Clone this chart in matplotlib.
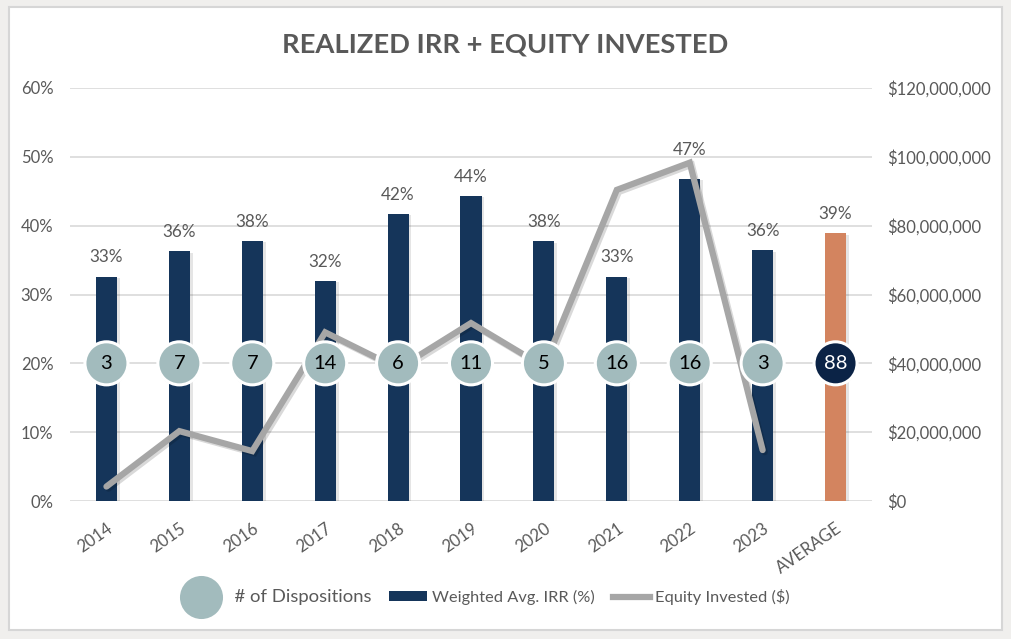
import numpy as np
import matplotlib.pyplot as plt
import matplotlib.patheffects as pe
from matplotlib.lines import Line2D
from matplotlib.patches import Patch, Rectangle
from matplotlib.ticker import FuncFormatter

plt.rcParams['font.family'] = ['Lato', 'DejaVu Sans']

# data
categories = ['2014', '2015', '2016', '2017', '2018', '2019', '2020',
              '2021', '2022', '2023', 'AVERAGE']
irr = [0.326, 0.363, 0.378, 0.320, 0.417, 0.443, 0.377,
       0.326, 0.468, 0.364, 0.389]
irr_labels = ['33%', '36%', '38%', '32%', '42%', '44%', '38%',
              '33%', '47%', '36%', '39%']
equity = [4.2e6, 20.3e6, 14.5e6, 49e6, 38.5e6, 51.7e6, 39e6,
          90.4e6, 98.3e6, 14.8e6]
dispositions = [3, 7, 7, 14, 6, 11, 5, 16, 16, 3, 88]

NAVY = '#15355a'
ORANGE = '#d3845f'
TEAL = '#a2bbbd'
DARK = '#0b2346'
GRAY_LINE = '#a6a6a6'
TXT = '#595959'

fig = plt.figure(figsize=(10.11, 6.39), dpi=100)
fig.patch.set_facecolor('#f0efed')
fig.patches.append(Rectangle((9 / 1011, 1 - 630 / 639), 993 / 1011, 623 / 639,
                             transform=fig.transFigure, facecolor='white',
                             edgecolor='#d6d6d6', linewidth=1.5, zorder=-5))

ax = fig.add_axes([70 / 1011, 1 - 501 / 639, 802 / 1011, 413 / 639])
ax.set_facecolor('none')
x = np.arange(len(categories))

colors = [NAVY] * (len(categories) - 1) + [ORANGE]
shadow = [pe.SimplePatchShadow(offset=(2, -1), alpha=0.1, shadow_rgbFace='black'),
          pe.Normal()]
bars = ax.bar(x, irr, width=0.29, color=colors, zorder=2)
for b in bars:
    b.set_path_effects(shadow)

# the 2022 label sits above the equity line
for xi, v, lab in zip(x, irr, irr_labels):
    dy = 15 if categories[xi] == '2022' else 8
    ax.annotate(lab, (xi, v), xytext=(0, dy), textcoords='offset points',
                ha='center', va='bottom', fontsize=12.3, color=TXT, zorder=5)

ax.set_xlim(-0.5, len(categories) - 0.5)
ax.set_ylim(0, 0.6)
ax.set_yticks(np.arange(0, 0.61, 0.1))
ax.yaxis.set_major_formatter(FuncFormatter(lambda v, p: f'{v * 100:.0f}%'))
ax.grid(axis='y', color='#d9d9d9', linewidth=1.2, zorder=0)
ax.set_axisbelow(True)
for s in ax.spines.values():
    s.set_visible(False)
ax.tick_params(axis='both', length=0, labelsize=12, labelcolor=TXT)
ax.tick_params(axis='y', pad=12)
ax.set_xticks(x)
ax.set_xticklabels(categories, rotation=35, ha='right', rotation_mode='anchor')
ax.tick_params(axis='x', pad=14)

# equity line on the right axis
ax2 = ax.twinx()
ax2.set_ylim(0, 120e6)
ax2.set_yticks(np.arange(0, 120e6 + 1, 20e6))
ax2.yaxis.set_major_formatter(FuncFormatter(lambda v, p: f'${v:,.0f}'))
ax2.tick_params(axis='y', length=0, labelsize=12, labelcolor=TXT, pad=11)
for s in ax2.spines.values():
    s.set_visible(False)
ax2.plot(x[:len(equity)], equity, color=GRAY_LINE, linewidth=4.5,
         solid_capstyle='round', solid_joinstyle='miter', zorder=3,
         path_effects=[pe.SimpleLineShadow(offset=(1.5, -1.5), alpha=0.15),
                       pe.Normal()])

# disposition bubbles on top of everything
ax3 = ax.twinx()
ax3.set_ylim(0, 0.6)
ax3.axis('off')
circle_colors = [TEAL] * (len(categories) - 1) + [DARK]
text_colors = ['black'] * (len(categories) - 1) + ['white']
for xi, n, fc, tc in zip(x, dispositions, circle_colors, text_colors):
    ax3.plot(xi, 0.2, 'o', markersize=31, markerfacecolor=fc,
             markeredgecolor='white', markeredgewidth=2.2, zorder=4,
             path_effects=[pe.SimplePatchShadow(offset=(0, -1), alpha=0.15),
                           pe.Normal()])
    ax3.text(xi, 0.2, str(n), ha='center', va='center', fontsize=14.5,
             color=tc, zorder=5)

fig.text(505 / 1011, 1 - 45 / 639, 'REALIZED IRR + EQUITY INVESTED',
         ha='center', va='center', fontsize=19.7, fontweight='bold', color=TXT)

handles = [
    Line2D([], [], marker='o', linestyle='none', markersize=31,
           markerfacecolor=TEAL, markeredgecolor='none'),
    Patch(facecolor=NAVY, edgecolor='none'),
    Line2D([], [], color=GRAY_LINE, linewidth=4.5),
]
labels = ['  # of Dispositions', 'Weighted Avg. IRR (%)', 'Equity Invested ($)']
leg = fig.legend(handles, labels, loc='center', ncol=3,
                 bbox_to_anchor=(486 / 1011, 1 - 597 / 639), frameon=False,
                 fontsize=11.8, handlelength=2.3, handleheight=0.6,
                 handletextpad=0.3, columnspacing=1.1, labelcolor=TXT)
leg.get_texts()[0].set_fontsize(13.3)

fig.savefig('out.png', dpi=100, facecolor=fig.get_facecolor())
